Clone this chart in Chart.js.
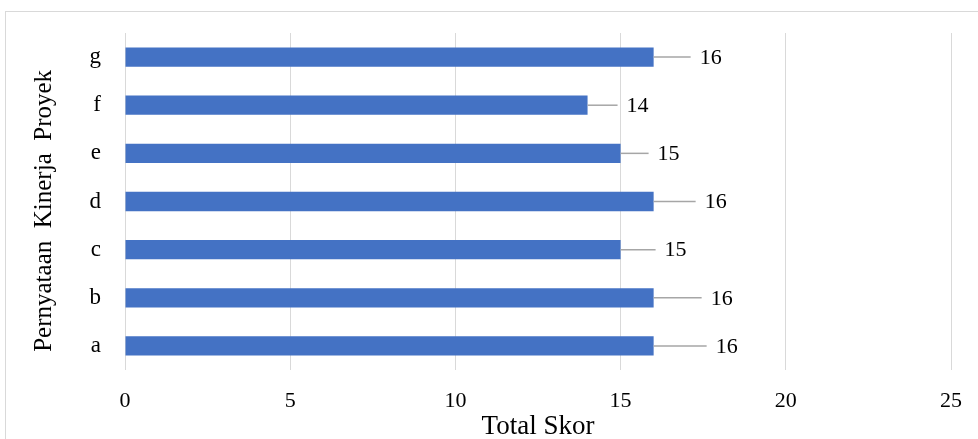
<!DOCTYPE html>
<html>
<head>
<meta charset="utf-8">
<script src="https://cdn.jsdelivr.net/npm/chart.js@4"></script>
<style>
  html, body { margin: 0; padding: 0; background: #fff; overflow: hidden; }
  #wrap { position: relative; width: 978px; height: 439px; overflow: hidden; }
  #frame { position: absolute; left: 5px; top: 11px; width: 1000px; height: 500px; border: 1px solid #d9d9d9; }
  #chart { position: absolute; left: 0; top: 0; }
</style>
</head>
<body>
<div id="wrap">
  <div id="frame"></div>
  <canvas id="chart" width="978" height="439"></canvas>
</div>
<script>
// data skor per pernyataan (a di bawah, g di atas)
var kategori  = ['a', 'b', 'c', 'd', 'e', 'f', 'g'];
var totalSkor = [16, 16, 15, 16, 15, 14, 16];
var tickX     = [0, 5, 10, 15, 20, 25];

// panjang garis penunjuk label (px), urutan a..g
var panjangGaris = [53, 48, 35, 42, 28, 30, 37];

var serif = '"Liberation Serif", "Times New Roman", serif';

// plugin label data + garis penunjuk
var labelGaris = {
  id: 'labelGaris',
  afterDatasetsDraw: function(chart) {
    var ctx = chart.ctx;
    var meta = chart.getDatasetMeta(0);
    ctx.save();
    meta.data.forEach(function(bar, i) {
      var x0 = bar.x, y0 = bar.y;
      var x1 = x0 + panjangGaris[i];
      ctx.strokeStyle = '#a6a6a6';
      ctx.lineWidth = 1.5;
      ctx.beginPath();
      ctx.moveTo(x0, y0);
      ctx.lineTo(x1, y0);
      ctx.stroke();
      ctx.fillStyle = '#000';
      ctx.font = '22px ' + serif;
      ctx.textAlign = 'left';
      ctx.textBaseline = 'middle';
      ctx.fillText(String(totalSkor[i]), x1 + 9, y0 + 1);
    });
    ctx.restore();
  }
};

new Chart(document.getElementById('chart'), {
  type: 'bar',
  data: {
    labels: kategori,
    datasets: [{
      data: totalSkor,
      backgroundColor: '#4472c4',
      categoryPercentage: 0.4,
      barPercentage: 1,
    }],
  },
  options: {
    indexAxis: 'y',
    responsive: false,
    animation: false,
    layout: { padding: { left: 5, right: 27, top: 33, bottom: 0 } },
    plugins: {
      legend: { display: false },
      tooltip: { enabled: false },
    },
    scales: {
      x: {
        min: 0, max: 25,
        afterBuildTicks: function(s) { s.ticks = tickX.map(function(v) { return { value: v }; }); },
        afterFit: function(s) { s.height = 69; s.paddingLeft = 0; s.paddingRight = 0; },
        grid: { color: '#d9d9d9', drawTicks: false },
        border: { display: false },
        ticks: { color: '#000', font: { family: serif, size: 22 }, padding: 18 },
        title: {
          display: true, text: 'Total Skor', color: '#000',
          font: { family: serif, size: 27, lineHeight: 1 },
          padding: { top: 0, bottom: -1 },
        },
      },
      y: {
        reverse: true,
        afterFit: function(s) { s.width = 120; s.paddingTop = 0; s.paddingBottom = 0; },
        grid: { display: false, drawTicks: false },
        border: { display: false },
        ticks: { color: '#000', font: { family: serif, size: 23 }, padding: 24 },
        title: {
          display: true, text: 'Pernyataan  Kinerja  Proyek   ', color: '#000',
          font: { family: serif, size: 25, lineHeight: 1 },
          padding: { top: 27, bottom: 0 },
        },
      },
    },
  },
  plugins: [labelGaris],
});
</script>
</body>
</html>
